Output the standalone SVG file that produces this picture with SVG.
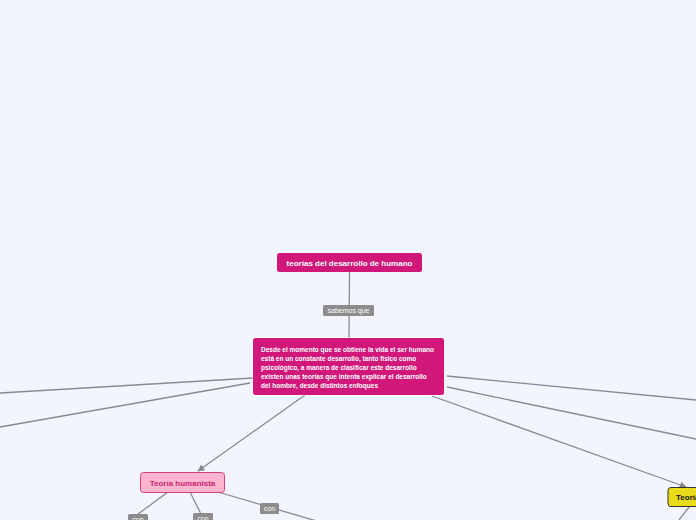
<svg xmlns="http://www.w3.org/2000/svg" width="696" height="520" viewBox="0 0 696 520">
<style>
.bg{fill:#f2f5fe}
.ln{stroke:#8a8a8e;stroke-width:1.3;fill:none}
.lab rect{fill:#8c8c8c}
.lab text{fill:#fff;font-family:"Liberation Sans",Arial,sans-serif;font-size:7px;text-anchor:middle}
.mag{fill:#d2177b}
.tw{fill:#fff;font-family:"Liberation Sans",Arial,sans-serif;font-weight:bold}
</style>
<defs>
<marker id="ah" viewBox="0 0 10 10" refX="9" refY="5" markerWidth="7" markerHeight="7" orient="auto" markerUnits="userSpaceOnUse"><path d="M0,0 L10,5 L0,10 z" fill="#8a8a8e"/></marker>
</defs>
<rect class="bg" x="0" y="0" width="696" height="520"/>
<g id="connectors">
<line class="ln" x1="349.5" y1="272" x2="349" y2="338"/>
<line class="ln" x1="253" y1="378" x2="0" y2="393"/>
<line class="ln" x1="250" y1="383" x2="0" y2="427"/>
<line class="ln" x1="305" y1="395" x2="198" y2="471" marker-end="url(#ah)"/>
<line class="ln" x1="447" y1="376" x2="696" y2="400"/>
<line class="ln" x1="447" y1="387" x2="696" y2="439"/>
<line class="ln" x1="432" y1="396" x2="686" y2="487" marker-end="url(#ah)"/>
<line class="ln" x1="168" y1="492" x2="130" y2="520"/>
<line class="ln" x1="190" y1="492" x2="204" y2="520"/>
<line class="ln" x1="218" y1="492" x2="320" y2="522"/>
<line class="ln" x1="690" y1="506" x2="679" y2="520"/>
<g class="lab"><rect x="323" y="305" width="51" height="11" rx="1.5"/><text x="348.5" y="313.3">sabemos que</text></g>
<g class="lab"><rect x="260" y="503" width="19" height="11" rx="1.5"/><text x="269.5" y="511.3">con</text></g>
<g class="lab"><rect x="128" y="514" width="20" height="11" rx="1.5"/><text x="138" y="522.3">con</text></g>
<g class="lab"><rect x="193" y="513" width="20" height="11" rx="1.5"/><text x="203" y="521.3">con</text></g>
</g>
<g id="n-top">
<rect class="mag" x="277" y="253" width="145" height="19" rx="2.5"/>
<text class="tw" x="349.5" y="265.5" font-size="8" text-anchor="middle">teorías del desarrollo de humano</text>
</g>
<g id="n-main">
<rect x="252.5" y="337.5" width="192" height="58" rx="3" fill="#fff" opacity="0.8"/>
<rect class="mag" x="253" y="338" width="191" height="57" rx="2.5"/>
<g class="tw" font-size="6.5">
<text x="261" y="351.5">Desde el momento que se obtiene la vida el ser humano</text>
<text x="261" y="360.5">está en un constante desarrollo, tanto físico como</text>
<text x="261" y="369.5">psicológico, a manera de clasificar este desarrollo</text>
<text x="261" y="378.5">existen unas teorías que intenta explicar el desarrollo</text>
<text x="261" y="387.5">del hombre, desde distintos enfoques</text>
</g>
</g>
<g id="n-humanista">
<rect x="140.5" y="472.5" width="84" height="20" rx="3" fill="#ffb5d0" stroke="#d2407e" stroke-width="1"/>
<text x="182.5" y="485.5" font-family="Liberation Sans,Arial,sans-serif" font-weight="bold" font-size="8" fill="#c8276f" text-anchor="middle">Teoría humanista</text>
</g>
<g id="n-yellow">
<rect x="668" y="487.5" width="40" height="19" rx="3" fill="#e9dc1a" stroke="#333" stroke-width="1"/>
<text x="676" y="500" font-family="Liberation Sans,Arial,sans-serif" font-weight="bold" font-size="8" fill="#111">Teoría</text>
</g>
</svg>
